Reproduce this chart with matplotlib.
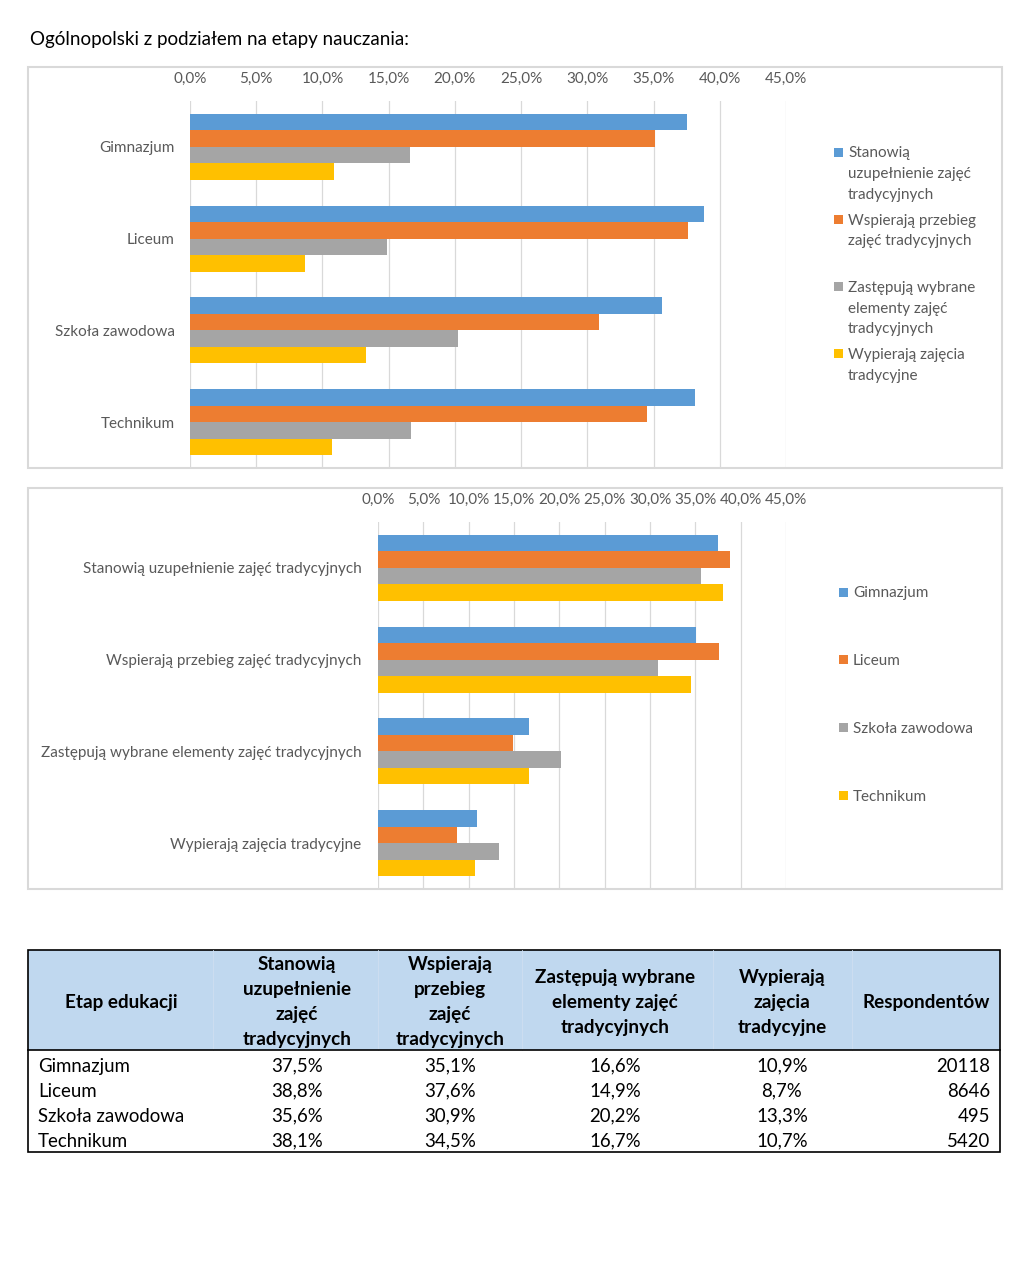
import matplotlib
matplotlib.use('Agg')
import textwrap
import matplotlib.pyplot as plt
from matplotlib.patches import Rectangle
from matplotlib.ticker import FuncFormatter, MultipleLocator

plt.rcParams['font.family'] = ['Lato', 'DejaVu Sans']

# dane
stages = ['Gimnazjum', 'Liceum', 'Szkoła zawodowa', 'Technikum']
types = ['Stanowią uzupełnienie zajęć tradycyjnych',
         'Wspierają przebieg zajęć tradycyjnych',
         'Zastępują wybrane elementy zajęć tradycyjnych',
         'Wypierają zajęcia tradycyjne']
stanowia = [37.5, 38.8, 35.6, 38.1]
wspieraja = [35.1, 37.6, 30.9, 34.5]
zastepuja = [16.6, 14.9, 20.2, 16.7]
wypieraja = [10.9, 8.7, 13.3, 10.7]
respondents = [20118, 8646, 495, 5420]

header = ['Etap edukacji',
          'Stanowią\nuzupełnienie\nzajęć\ntradycyjnych',
          'Wspierają\nprzebieg\nzajęć\ntradycyjnych',
          'Zastępują wybrane\nelementy zajęć\ntradycyjnych',
          'Wypierają\nzajęcia\ntradycyjne',
          'Respondentów']

COLORS = ['#5B9BD5', '#ED7D31', '#A5A5A5', '#FFC000']
GREY = '#595959'

W, H = 1024, 1268
fig = plt.figure(figsize=(W / 100, H / 100), dpi=100)


def px_box(x0, y0, x1, y1):
    return [x0 / W, 1 - y1 / H, (x1 - x0) / W, (y1 - y0) / H]


def pct(v, pos):
    return ('%.1f%%' % v).replace('.', ',')


def draw_bars(ax, cats, series, ypad):
    h = 0.18
    n = len(series)
    for j, vals in enumerate(series):
        ys = [i + (j - (n - 1) / 2) * h for i in range(len(cats))]
        ax.barh(ys, vals, height=h, color=COLORS[j], zorder=3)
    ax.set_yticks(range(len(cats)))
    ax.set_yticklabels(cats)
    ax.set_ylim(len(cats) - 0.5, -0.5)
    ax.set_xlim(0, 45)
    ax.xaxis.set_major_locator(MultipleLocator(5))
    ax.xaxis.set_major_formatter(FuncFormatter(pct))
    ax.xaxis.tick_top()
    ax.grid(axis='x', color='#d9d9d9', lw=0.9, zorder=0)
    for s in ax.spines.values():
        s.set_visible(False)
    ax.tick_params(length=0, labelcolor=GREY, labelsize=11)
    ax.tick_params(axis='x', pad=11)
    ax.tick_params(axis='y', pad=ypad)
    ax.set_facecolor('none')


series1 = [stanowia, wspieraja, zastepuja, wypieraja]
ax1 = fig.add_axes(px_box(190, 101, 786, 468))
draw_bars(ax1, stages, series1, 11)

series2 = [list(r) for r in zip(*series1)]
ax2 = fig.add_axes(px_box(378, 522, 786, 889))
draw_bars(ax2, types, series2, 12)

# warstwa w pikselach: ramki, legendy, tabela
ov = fig.add_axes([0, 0, 1, 1])
ov.set_xlim(0, W)
ov.set_ylim(H, 0)
ov.axis('off')

for y0, y1 in [(67, 468), (488, 889)]:
    ov.add_patch(Rectangle((28, y0), 974, y1 - y0, fill=False,
                           edgecolor='#d9d9d9', lw=1.5))


def lines_at(x, y, lines, step, fontsize, **kw):
    # linia bazowa przesunięta o pół wysokości wersalików
    off = 0.36 * fontsize * 100 / 72
    for k, ln in enumerate(lines):
        ov.text(x, y + k * step + off, ln, va='baseline', fontsize=fontsize, **kw)


lines_at(30, 38, ['Ogólnopolski z podziałem na etapy nauczania:'], 0, 13.5,
         ha='left', color='black')


def legend_px(x, y0, slot, labels):
    for i, lab in enumerate(labels):
        y = y0 + i * slot
        ov.add_patch(Rectangle((x, y - 4.5), 9, 9, color=COLORS[i], lw=0))
        lines_at(x + 14, y, textwrap.wrap(lab, 18), 20.5, 11,
                 color=GREY, ha='left')


legend_px(834, 152, 67.3, types)
legend_px(839, 592, 67.7, stages)

# tabela
tx0, tx1, ty0, ty1, hy = 28, 1000, 950, 1152, 1050
ov.add_patch(Rectangle((tx0, ty0), tx1 - tx0, hy - ty0, facecolor='#C0D8EF',
                       edgecolor='none'))
for xs in [213, 378, 522, 713, 852]:
    ov.plot([xs, xs], [ty0, hy], color='#cfdff1', lw=0.6)
ov.add_patch(Rectangle((tx0, ty0), tx1 - tx0, ty1 - ty0, fill=False,
                       edgecolor='black', lw=1.2))
ov.plot([tx0, tx1], [hy, hy], color='black', lw=1.2)

col_x = [121, 297, 450, 615, 782, 926]
for cx, lab in zip(col_x, header):
    ls = lab.split('\n')
    lines_at(cx, 1001 - (len(ls) - 1) / 2 * 25, ls, 25, 13.6,
             fontweight='bold', color='black', ha='center')

row_y = [1065, 1090, 1115, 1140]
for i, st in enumerate(stages):
    y = row_y[i]
    lines_at(38, y, [st], 0, 13.4, ha='left', color='black')
    for cx, col in zip(col_x[1:5], series1):
        lines_at(cx, y, [pct(col[i], None)], 0, 13.4, ha='center', color='black')
    lines_at(990, y, [str(respondents[i])], 0, 13.4, ha='right', color='black')

fig.savefig('out.png', dpi=100, facecolor='white')
